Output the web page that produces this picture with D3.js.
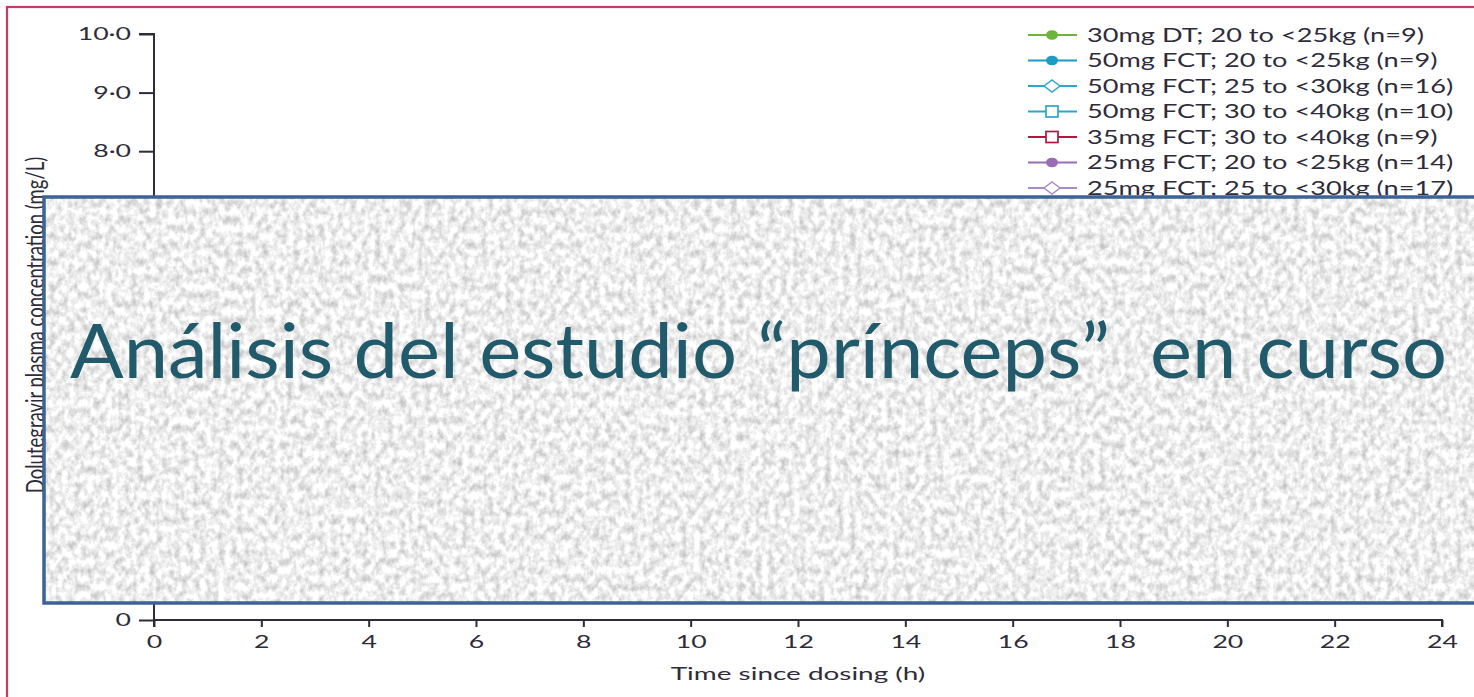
<!DOCTYPE html>
<html><head><meta charset="utf-8">
<script src="https://cdn.jsdelivr.net/npm/d3@7"></script>
<style>html,body{margin:0;padding:0;background:#fff;overflow:hidden}</style>
</head><body>
<svg id="chart" width="1474" height="697"></svg>
<script>
// ---- data ----
const xTicks = [0,2,4,6,8,10,12,14,16,18,20,22,24];
const yTicks = [0,8,9,10];
const yTickLabels = ["0","8·0","9·0","10·0"];
const seriesLabels = [
  "30mg DT; 20 to <25kg (n=9)",
  "50mg FCT; 20 to <25kg (n=9)",
  "50mg FCT; 25 to <30kg (n=16)",
  "50mg FCT; 30 to <40kg (n=10)",
  "35mg FCT; 30 to <40kg (n=9)",
  "25mg FCT; 20 to <25kg (n=14)",
  "25mg FCT; 25 to <30kg (n=17)"
];
const seriesColors = ["#6cb43c","#1b9cc2","#2aa7cc","#2aa7cc","#b3173f","#9a6cb3","#a98bc6"];
const seriesSymbols = ["circleFilled","circleFilled","diamondOpen","squareOpen","squareOpen","circleFilled","diamondOpen"];
const xTitle = "Time since dosing (h)";
const yTitle = "Dolutegravir plasma concentration (mg/L)";
const overlayText = "Análisis del estudio “prínceps”  en curso";

// ---- drawing ----
const svg = d3.select("#chart");
const font = "Lato, 'Open Sans', sans-serif";
const ink = "#2e2c3a";
const SX = 1.48;   // horizontal stretch of the chart's lettering

const x = d3.scaleLinear().domain([0,24]).range([154,1442]);
const y = d3.scaleLinear().domain([0,10]).range([620,34]);

// outer crimson frame
svg.append("rect").attr("x",7).attr("y",7).attr("width",1490).attr("height",720)
  .attr("fill","none").attr("stroke","#c73a62").attr("stroke-width",2.2);

// axes
const yAxis = d3.axisLeft(y).tickValues(yTicks).tickSize(15).tickPadding(8)
  .tickFormat((d,i)=>yTickLabels[i]);
const gy = svg.append("g").attr("transform",`translate(${x(0)},0)`).call(yAxis);
gy.select(".domain").attr("d",`M-15,${y(10)}H0V${y(0)+7}`).attr("stroke",ink).attr("stroke-width",2);
gy.selectAll(".tick line").attr("stroke",ink).attr("stroke-width",2);
gy.selectAll(".tick text").attr("font-family",font).attr("font-size",18).attr("fill",ink)
  .attr("x",-23/SX).attr("transform",`scale(${SX},1)`);

const xAxis = d3.axisBottom(x).tickValues(xTicks).tickSize(7).tickPadding(8).tickFormat(d3.format("d"));
const gx = svg.append("g").attr("transform",`translate(0,${y(0)})`).call(xAxis);
gx.select(".domain").attr("d",`M${x(0)},0H${x(24)}V7`).attr("stroke",ink).attr("stroke-width",2);
gx.selectAll(".tick line").attr("stroke",ink).attr("stroke-width",2);
gx.selectAll(".tick text").attr("font-family",font).attr("font-size",18).attr("fill",ink)
  .attr("transform",`scale(${SX},1)`);

svg.append("text").attr("transform",`translate(${(x(0)+x(24))/2},680) scale(1.55,1)`).attr("text-anchor","middle")
  .attr("font-family",font).attr("font-size",18).attr("fill",ink).text(xTitle);
svg.append("text").attr("transform","translate(44,325) rotate(-90) scale(1,1.3)").attr("text-anchor","middle")
  .attr("font-family",font).attr("font-size",18.5).attr("fill",ink).text(yTitle);

// legend
const lg = svg.append("g");
const rowY = d3.scaleLinear().domain([0,1]).range([35,60.5]);
seriesLabels.forEach((lab,i)=>{
  const g = lg.append("g").attr("transform",`translate(0,${rowY(i)})`);
  const c = seriesColors[i];
  g.append("line").attr("x1",1028).attr("x2",1077).attr("y1",0).attr("y2",0).attr("stroke",c).attr("stroke-width",1.8);
  const s = seriesSymbols[i];
  if (s==="circleFilled") g.append("ellipse").attr("cx",1052).attr("cy",0).attr("rx",6).attr("ry",4.8).attr("fill",c);
  else if (s==="squareOpen") g.append("rect").attr("x",1046).attr("y",-5.5).attr("width",12).attr("height",11).attr("fill","#fff").attr("stroke",c).attr("stroke-width",1.7);
  else g.append("path").attr("d","M1052,-6L1060,0L1052,6L1044,0Z").attr("fill","#fff").attr("stroke",c).attr("stroke-width",1.5);
  g.append("text").attr("transform",`translate(1087,6.5) scale(1.43,1)`).attr("font-family",font)
    .attr("font-size",19).attr("fill",ink).text(lab);
});

// overlay textured box
const defs = svg.append("defs");
const f = defs.append("filter").attr("id","tex").attr("x",0).attr("y",0).attr("width",1).attr("height",1)
  .attr("color-interpolation-filters","sRGB");
f.append("feTurbulence").attr("type","fractalNoise").attr("baseFrequency","0.16 0.12").attr("numOctaves",4).attr("seed",11).attr("result","n");
f.append("feColorMatrix").attr("in","n").attr("type","matrix")
  .attr("values","0.45 0 0 0 0.71  0.45 0 0 0 0.71  0.45 0 0 0 0.71  0 0 0 0 1");
svg.append("rect").attr("x",44).attr("y",197).attr("width",1440).attr("height",406)
  .attr("fill","#eee").attr("filter","url(#tex)");
svg.append("rect").attr("x",44).attr("y",197).attr("width",1440).attr("height",406)
  .attr("fill","none").attr("stroke","#3b6393").attr("stroke-width",3.5);

svg.append("text").attr("x",70).attr("y",378)
  .attr("font-family","Lato, 'Open Sans', sans-serif").attr("font-size",76).attr("fill","#205a6b")
  .attr("textLength",1377).attr("lengthAdjust","spacingAndGlyphs")
  .style("white-space","pre").text(overlayText);
</script>
</body></html>
